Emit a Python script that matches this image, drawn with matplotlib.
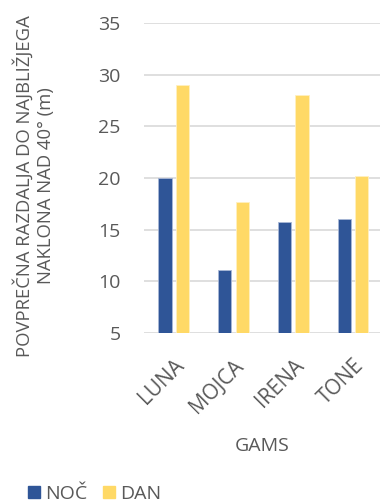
import matplotlib
matplotlib.use("Agg")
import matplotlib.pyplot as plt
from matplotlib.patches import Patch
import numpy as np

plt.rcParams['font.family'] = ['Open Sans', 'DejaVu Sans']

categories = ["LUNA", "MOJCA", "IRENA", "TONE"]
noc = [20.0, 11.1, 15.7, 16.0]
dan = [29.0, 17.7, 28.0, 20.2]
series_names = ["NOČ", "DAN"]
yticks = [5, 10, 15, 20, 25, 30, 35]

BLUE = "#2F5597"
YELLOW = "#FFD966"
TEXT = "#595959"
GRID = "#D9D9D9"

W, H = 380, 504
fig = plt.figure(figsize=(W / 100, H / 100), dpi=100)
ax = fig.add_axes([144 / W, 1 - 333 / H, 236 / W, 310 / H])

x = np.arange(len(categories))
bw = 0.223
off = 0.146
ax.bar(x - off, noc, bw, bottom=0, color=BLUE, edgecolor="#A9B8D6", linewidth=0.6, zorder=3)
ax.bar(x + off, dan, bw, bottom=0, color=YELLOW, edgecolor="#FFF0C0", linewidth=0.6, zorder=3)

ax.set_ylim(5, 35)
ax.set_xlim(-0.5, -0.5 + 236 / 59.7)
ax.set_yticks(yticks)
ax.yaxis.grid(True, color=GRID, linewidth=1.2, zorder=0)
ax.set_axisbelow(True)
for s in ax.spines.values():
    s.set_visible(False)
ax.tick_params(axis="both", length=0, colors=TEXT, labelsize=14)
ax.tick_params(axis="y", pad=17)
ax.set_xticks(x)
ax.set_xticklabels(categories, rotation=45, ha="right", va="top",
                   rotation_mode="anchor", fontsize=15, color=TEXT)
ax.tick_params(axis="x", pad=16)

fig.text(262 / W, 1 - 446 / H, "GAMS", ha="center", va="center", fontsize=14, color=TEXT)
fig.text(34 / W, 1 - 186 / H, "POVPREČNA RAZDALJA DO NAJBLIŽJEGA\nNAKLONA NAD 40° (m)",
         rotation=90, ha="center", va="center", fontsize=13.3, color=TEXT,
         multialignment="center", linespacing=1.25)

handles = [Patch(color=BLUE), Patch(color=YELLOW)]
fig.legend(handles, series_names, loc="center left", bbox_to_anchor=(28 / W, 1 - 494 / H),
           ncol=2, frameon=False, fontsize=14, labelcolor=TEXT,
           handlelength=0.62, handleheight=0.62, handletextpad=0.25, columnspacing=0.8,
           borderpad=0.0, borderaxespad=0.0)

fig.savefig("out.png", dpi=100)
